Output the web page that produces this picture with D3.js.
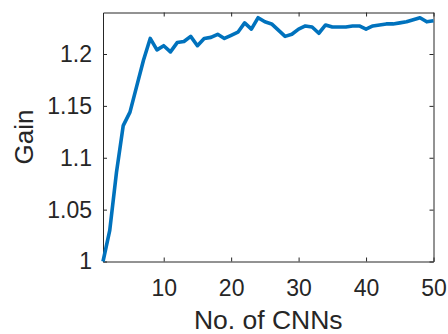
<!DOCTYPE html>
<html>
<head>
<meta charset="utf-8">
<script src="https://cdn.jsdelivr.net/npm/d3@7"></script>
<style>
  html, body { margin: 0; padding: 0; background: #fff; }
  svg { display: block; }
  text { font-family: "Liberation Sans", Arial, Helvetica, sans-serif; fill: #262626; }
</style>
</head>
<body>
<div id="chart"></div>
<script>
// Number of CNNs in the ensemble
const numCNNs = d3.range(1, 51);
// Gain obtained for each ensemble size
const gain = [
  1.000, 1.030, 1.086, 1.131, 1.144, 1.169, 1.194, 1.215, 1.204, 1.208,
  1.202, 1.211, 1.212, 1.217, 1.208, 1.215, 1.216, 1.219, 1.215, 1.218,
  1.221, 1.230, 1.224, 1.235, 1.231, 1.229, 1.223, 1.217, 1.219, 1.224,
  1.227, 1.226, 1.220, 1.228, 1.226, 1.226, 1.226, 1.227, 1.227, 1.224,
  1.227, 1.228, 1.229, 1.229, 1.230, 1.231, 1.233, 1.235, 1.231, 1.232
];
const xTicks = [10, 20, 30, 40, 50];
const yTicks = [1, 1.05, 1.1, 1.15, 1.2];

const W = 448, H = 334;
const margin = { left: 103, top: 12.5, right: 14.5, bottom: 72.5 };
const iw = W - margin.left - margin.right;
const ih = H - margin.top - margin.bottom;

const svg = d3.select("#chart").append("svg")
  .attr("width", W).attr("height", H);

const g = svg.append("g").attr("transform", `translate(${margin.left},${margin.top})`);

const x = d3.scaleLinear().domain([1, 50]).range([0, iw]);
const y = d3.scaleLinear().domain([1, 1.24]).range([ih, 0]);

const axisColor = "#262626";
const tickLen = 4;

// Bottom axis with labels, ticks pointing inward
const axBottom = g.append("g").attr("transform", `translate(0,${ih})`)
  .call(d3.axisBottom(x).tickValues(xTicks).tickFormat(d3.format("d"))
    .tickSizeInner(-tickLen).tickSizeOuter(0).tickPadding(18));
// Left axis with labels, ticks pointing inward
const axLeft = g.append("g")
  .call(d3.axisLeft(y).tickValues(yTicks).tickFormat(d => String(d))
    .tickSizeInner(-tickLen).tickSizeOuter(0).tickPadding(11));
// Mirrored ticks on the top and right edges
const axTop = g.append("g")
  .call(d3.axisTop(x).tickValues(xTicks).tickFormat("")
    .tickSizeInner(-tickLen).tickSizeOuter(0));
const axRight = g.append("g").attr("transform", `translate(${iw},0)`)
  .call(d3.axisRight(y).tickValues(yTicks).tickFormat("")
    .tickSizeInner(-tickLen).tickSizeOuter(0));

[axBottom, axLeft, axTop, axRight].forEach(a => {
  a.select(".domain").attr("stroke", axisColor).attr("stroke-width", 1);
  a.selectAll(".tick line").attr("stroke", axisColor).attr("stroke-width", 1);
  a.selectAll(".tick text").attr("font-size", 23).attr("fill", axisColor)
    .attr("font-family", "'Liberation Sans', Arial, sans-serif");
});
axBottom.selectAll(".tick text").attr("dy", "0.71em");

// Series line
const line = d3.line()
  .x((d, i) => x(numCNNs[i]))
  .y(d => y(d));

g.append("path")
  .datum(gain)
  .attr("fill", "none")
  .attr("stroke", "#0072BD")
  .attr("stroke-width", 3.6)
  .attr("stroke-linejoin", "round")
  .attr("stroke-linecap", "butt")
  .attr("d", line);

// Axis titles
svg.append("text")
  .attr("x", margin.left + iw / 2)
  .attr("y", 329)
  .attr("text-anchor", "middle")
  .attr("font-size", 26.5)
  .text("No. of CNNs");

svg.append("text")
  .attr("transform", `translate(33,${margin.top + ih / 2}) rotate(-90)`)
  .attr("text-anchor", "middle")
  .attr("font-size", 26)
  .text("Gain");
</script>
</body>
</html>
